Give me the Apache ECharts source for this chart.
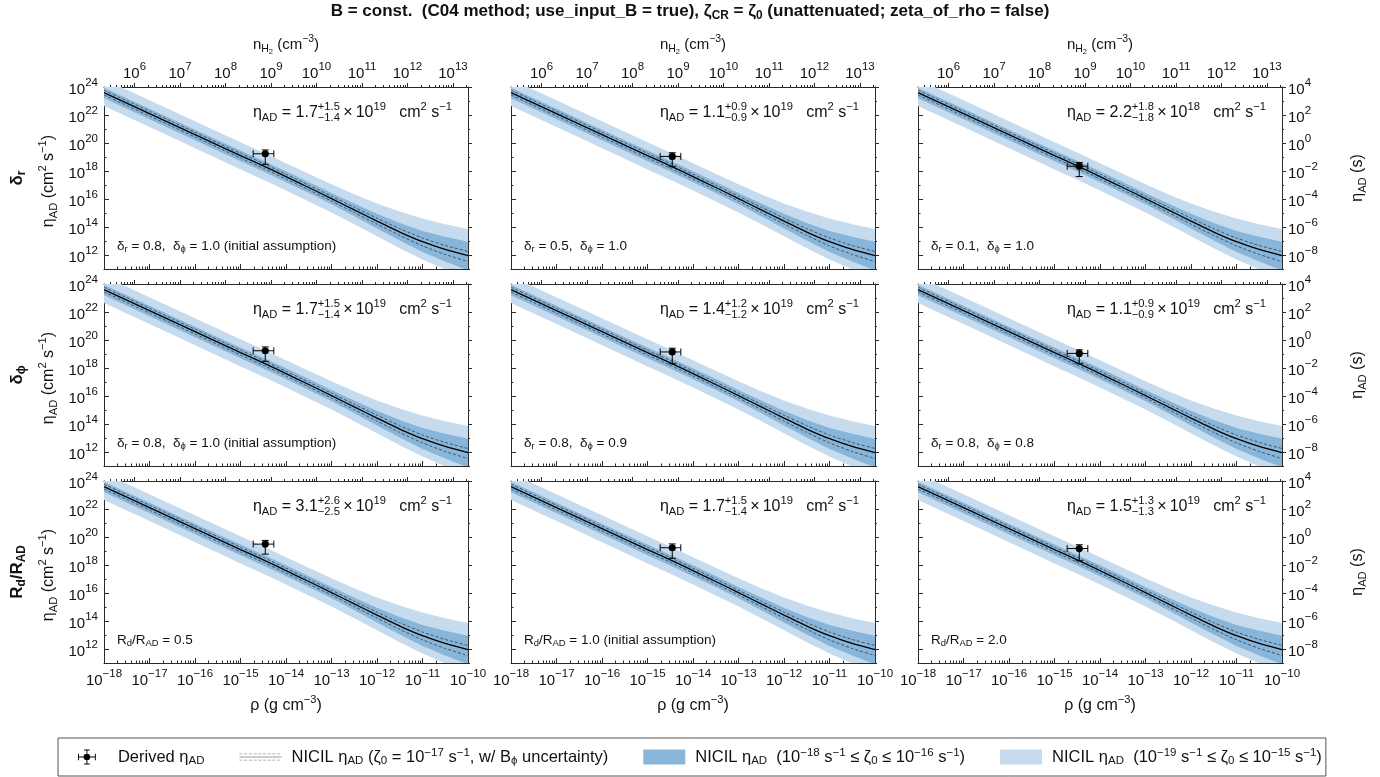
<!DOCTYPE html>
<html><head><meta charset="utf-8">
<script src="https://cdn.jsdelivr.net/npm/echarts@6/dist/echarts.min.js"></script>
<style>html,body{margin:0;padding:0;background:#fff}#c{width:1380px;height:777px}</style>
</head><body><div id="c"></div>
<script>
// ================= DATA =================
// density grid (log10 rho, g cm^-3)
const logRho        = [-18, -17.5, -17, -16.5, -16, -15.5, -15, -14.5, -14, -13.5, -13, -12.5, -12, -11.5, -11, -10.5, -10];
// NICIL eta_AD (log10 cm^2 s^-1), zeta0 = 1e-17 s^-1
const logEtaSolid   = [23.60, 22.85, 22.10, 21.35, 20.60, 19.85, 19.10, 18.37, 17.60, 16.82, 16.03, 15.22, 14.42, 13.64, 12.95, 12.40, 11.95];
// B_phi uncertainty (dashed)
const logEtaDashHi  = [23.77, 23.02, 22.27, 21.52, 20.77, 20.02, 19.27, 18.54, 17.77, 16.99, 16.20, 15.41, 14.63, 13.88, 13.21, 12.68, 12.25];
const logEtaDashLo  = [23.43, 22.68, 21.93, 21.18, 20.43, 19.68, 18.93, 18.20, 17.43, 16.65, 15.86, 15.03, 14.21, 13.40, 12.65, 12.04, 11.53];
// 1e-18 <= zeta0 <= 1e-16 band
const logEtaDarkHi  = [23.95, 23.20, 22.45, 21.70, 20.95, 20.20, 19.46, 18.74, 17.98, 17.21, 16.43, 15.67, 14.94, 14.28, 13.72, 13.30, 12.95];
const logEtaDarkLo  = [23.20, 22.45, 21.70, 20.95, 20.20, 19.45, 18.70, 17.97, 17.20, 16.42, 15.63, 14.77, 13.90, 13.03, 12.22, 11.53, 10.90];
// 1e-19 <= zeta0 <= 1e-15 band
const logEtaLightHi = [24.55, 23.80, 23.05, 22.30, 21.55, 20.80, 20.05, 19.32, 18.55, 17.80, 17.06, 16.34, 15.68, 15.10, 14.60, 14.20, 13.85];
const logEtaLightLo = [22.65, 21.90, 21.15, 20.40, 19.63, 18.87, 18.10, 17.37, 16.60, 15.82, 15.03, 14.20, 13.34, 12.48, 11.67, 10.97, 10.30];

// derived eta_AD point per panel (row-major, 3x3)
const pointRho   = 3.5e-15, pointRhoLo = 1.9e-15, pointRhoHi = 5.4e-15;
const etaMant    = [1.7, 1.1, 2.2, 1.7, 1.4, 1.1, 3.1, 1.7, 1.5];
const etaErrPlus = [1.5, 0.9, 1.8, 1.5, 1.2, 0.9, 2.6, 1.5, 1.3];
const etaErrMinus= [1.4, 0.9, 1.8, 1.4, 1.2, 0.9, 2.5, 1.4, 1.3];
const etaPow     = [19, 19, 18, 19, 19, 19, 19, 19, 19];
const panelNotes = [
  'δ_{r} = 0.8,  δ_{ϕ} = 1.0 (initial assumption)', 'δ_{r} = 0.5,  δ_{ϕ} = 1.0', 'δ_{r} = 0.1,  δ_{ϕ} = 1.0',
  'δ_{r} = 0.8,  δ_{ϕ} = 1.0 (initial assumption)', 'δ_{r} = 0.8,  δ_{ϕ} = 0.9', 'δ_{r} = 0.8,  δ_{ϕ} = 0.8',
  'R_{d}/R_{AD} = 0.5', 'R_{d}/R_{AD} = 1.0 (initial assumption)', 'R_{d}/R_{AD} = 2.0'];
const rowLabels = ['δ_{r}', 'δ_{ϕ}', 'R_{d}/R_{AD}'];
// tick values (exponents)
const rhoTickExp  = [-18, -17, -16, -15, -14, -13, -12, -11, -10];
const nTickExp    = [6, 7, 8, 9, 10, 11, 12, 13];
const etaTickExp  = [12, 14, 16, 18, 20, 22, 24];
const etaSTickExp = [-8, -6, -4, -2, 0, 2, 4];
const RHO_MIN = 1e-18, RHO_MAX = 1e-10, ETA_MIN = 1e11, ETA_MAX = 1e24;
const NH2_PER_RHO = 1 / (2.8 * 1.6726e-24);   // n_H2 = rho / (mu m_H)
const ETA_S_PER_CGS = 1e-20;                    // right-hand axis units

// ================= STYLE / LAYOUT =================
const FONT = '"Liberation Sans", Arial, Helvetica, sans-serif';
const AX = '#2a2a2a', LIGHT = '#c6dcee', DARK = '#88b5da';
const colLeft = [104, 511, 918], rowTop = [87, 284, 481], W = 364, H = 182;
const MINUS = '\u2212', TH = '\u2009';
const EPS = 1e-9;   // keep edge ticks inside the log extent (float rounding)

const ctx2d = document.createElement('canvas').getContext('2d');
function tw(t, fs, bold) { ctx2d.font = (bold ? 'bold ' : '') + fs + 'px ' + FONT; return ctx2d.measureText(t).width; }
function parseMarkup(str) {
  const out = []; const re = /([_^~|])\{([^}]*)\}/g; let last = 0, m;
  while ((m = re.exec(str))) {
    if (m.index > last) out.push({ t: str.slice(last, m.index), k: 'n' });
    const k = { '_': 'sub', '^': 'sup', '~': 'ss', '|': 'stack' }[m[1]];
    out.push(k === 'stack' ? { k, a: m[2].split(';') } : { t: m[2], k });
    last = re.lastIndex;
  }
  if (last < str.length) out.push({ t: str.slice(last), k: 'n' });
  return out;
}
function tEl(t, x, y, s, bold) {
  return { type: 'text', x, y, style: { text: t, fontSize: s, fontWeight: bold ? 'bold' : 'normal', fontFamily: FONT, fill: '#111', textAlign: 'left', verticalAlign: 'middle', textVerticalAlign: 'middle' } };
}
function mkText(str, o) {
  const fs = o.fs, bold = !!o.bold, items = parseMarkup(str), kids = []; let x = 0;
  const sz = { n: fs, sub: fs * 0.7, sup: fs * 0.7, ss: fs * 0.5 };
  const dy = { n: 0, sub: fs * 0.28, sup: -fs * 0.36, ss: fs * 0.45 };
  for (const it of items) {
    if (it.k === 'stack') {
      const s = fs * 0.7; const w = Math.max(tw(it.a[0], s, bold), tw(it.a[1], s, bold));
      kids.push(tEl(it.a[0], x, -fs * 0.36, s, bold)); kids.push(tEl(it.a[1], x, fs * 0.3, s, bold)); x += w;
    } else { kids.push(tEl(it.t, x, dy[it.k], sz[it.k], bold)); x += tw(it.t, sz[it.k], bold); }
  }
  const sh = o.align === 'right' ? -x : o.align === 'center' ? -x / 2 : 0;
  kids.forEach(k => k.x += sh);
  return { type: 'group', x: o.x, y: o.y, rotation: o.rot || 0, silent: true, children: kids };
}

const pw = e => Number.isInteger(e) ? Number('1e' + e) : Math.pow(10, e);
const powFmt = v => '{b|10}{s|' + String(Math.round(Math.log10(v))).replace('-', MINUS) + '}';
const tickRich = { b: { fontSize: 15, lineHeight: 20, verticalAlign: 'bottom', fontFamily: FONT, color: '#111' },
                   s: { fontSize: 11.5, lineHeight: 11, verticalAlign: 'top', fontFamily: FONT, color: '#111' } };
function minorOf(lo, hi) { const out = []; for (let k = Math.floor(Math.log10(lo)); k <= Math.ceil(Math.log10(hi)); k++) for (let j = 2; j <= 9; j++) { const v = j * pw(k); if (v > lo && v < hi) out.push(v); } return out; }

const rhoMajor = rhoTickExp.map(pw), rhoMinor = minorOf(RHO_MIN, RHO_MAX);
const nMin = RHO_MIN * NH2_PER_RHO, nMax = RHO_MAX * NH2_PER_RHO;
const nMajor = nTickExp.map(pw), nMinor = minorOf(nMin, nMax);
const etaMajor = etaTickExp.map(pw), etaMinor = etaTickExp.slice(0, -1).map(e => pw(e + 1)).concat([ETA_MIN]);
const etaSMin = ETA_MIN * ETA_S_PER_CGS, etaSMax = ETA_MAX * ETA_S_PER_CGS;
const etaSMajor = etaSTickExp.map(pw), etaSMinor = etaSTickExp.slice(0, -1).map(e => pw(e + 1)).concat([etaSMin]);

const pts = ys => logRho.map((x, i) => [pw(x), pw(ys[i])]);
const bandData = (lo, hi) => logRho.map((x, i) => [pw(x), pw(lo[i]), pw(hi[i])]);

function axis(o) {
  const base = { type: 'log', logBase: 10, splitLine: { show: false }, axisLine: { show: false, onZero: false }, axisTick: { show: false }, axisLabel: { show: false } };
  const a = Object.assign(base, o);
  a.min = a.min * (1 - EPS); a.max = a.max * (1 + EPS);
  return a;
}
function bandSeries(name, lo, hi, color, ax, z) {
  return { type: 'custom', name, xAxisIndex: ax, yAxisIndex: ax, z, silent: true, clip: true, animation: false,
    itemStyle: { color }, data: bandData(lo, hi), encode: { x: 0, y: [1, 2] },
    renderItem: (params, api) => {
      if (params.dataIndexInside !== 0) return;
      const n = params.dataInsideLength, up = [], dn = [];
      for (let k = 0; k < n; k++) {
        up.push(api.coord([api.value(0, k), api.value(2, k)]));
        dn.push(api.coord([api.value(0, k), api.value(1, k)]));
      }
      return { type: 'polygon', shape: { points: up.concat(dn.reverse()) }, style: { fill: color, stroke: null } };
    } };
}
const grids = [], xAxes = [], yAxes = [], series = [], graphics = [];
for (let r = 0; r < 3; r++) for (let c = 0; c < 3; c++) {
  const i = r * 3 + c, ax = 4 * i;
  grids.push({ left: colLeft[c], top: rowTop[r], width: W, height: H });
  const lineOn = { show: true, onZero: false, lineStyle: { color: AX, width: 1 } };
  xAxes.push(axis({ gridIndex: i, position: 'bottom', min: RHO_MIN, max: RHO_MAX, axisLine: lineOn,
    axisTick: { show: true, inside: true, length: 5, customValues: rhoMajor, lineStyle: { color: AX } },
    axisLabel: { show: r === 2, customValues: rhoMajor, formatter: powFmt, rich: tickRich, margin: 5 } }));
  xAxes.push(axis({ gridIndex: i, position: 'bottom', min: RHO_MIN, max: RHO_MAX,
    axisTick: { show: true, inside: true, length: 2.5, customValues: rhoMinor, lineStyle: { color: AX } } }));
  xAxes.push(axis({ gridIndex: i, position: 'top', min: nMin, max: nMax, axisLine: lineOn,
    axisTick: { show: true, inside: false, length: 4, customValues: nMajor, lineStyle: { color: AX } },
    axisLabel: { show: r === 0, customValues: nMajor, formatter: powFmt, rich: tickRich, margin: 6 } }));
  xAxes.push(axis({ gridIndex: i, position: 'top', min: nMin, max: nMax,
    axisTick: { show: true, inside: false, length: 2, customValues: nMinor, lineStyle: { color: AX } } }));
  yAxes.push(axis({ gridIndex: i, position: 'left', min: ETA_MIN, max: ETA_MAX, axisLine: lineOn,
    axisTick: { show: true, inside: true, length: 5, customValues: etaMajor, lineStyle: { color: AX } },
    axisLabel: { show: c === 0, customValues: etaMajor, formatter: powFmt, rich: tickRich, margin: 6 } }));
  yAxes.push(axis({ gridIndex: i, position: 'left', min: ETA_MIN, max: ETA_MAX,
    axisTick: { show: true, inside: true, length: 2.5, customValues: etaMinor, lineStyle: { color: AX } } }));
  yAxes.push(axis({ gridIndex: i, position: 'right', min: etaSMin, max: etaSMax, axisLine: lineOn,
    axisTick: { show: true, inside: false, length: 4, customValues: etaSMajor, lineStyle: { color: AX } },
    axisLabel: { show: c === 2, customValues: etaSMajor, formatter: powFmt, rich: tickRich, margin: 6 } }));
  yAxes.push(axis({ gridIndex: i, position: 'right', min: etaSMin, max: etaSMax,
    axisTick: { show: true, inside: false, length: 2, customValues: etaSMinor, lineStyle: { color: AX } } }));

  const common = { xAxisIndex: ax, yAxisIndex: ax, symbol: 'none', smooth: 0.2, silent: true, animation: false };
  series.push(bandSeries('light', logEtaLightLo, logEtaLightHi, LIGHT, ax, 1));
  series.push(bandSeries('dark', logEtaDarkLo, logEtaDarkHi, DARK, ax, 2));
  series.push(Object.assign({ type: 'line', name: 'dashHi', data: pts(logEtaDashHi), lineStyle: { color: '#3a3a3a', width: 0.8, type: [3, 2] }, z: 3 }, common));
  series.push(Object.assign({ type: 'line', name: 'dashLo', data: pts(logEtaDashLo), lineStyle: { color: '#3a3a3a', width: 0.8, type: [3, 2] }, z: 3 }, common));
  series.push(Object.assign({ type: 'line', name: 'NICIL', data: pts(logEtaSolid), lineStyle: { color: '#000', width: 1.3 }, itemStyle: { color: '#888' }, z: 4 }, common));
  const e = etaMant[i] * pw(etaPow[i]);
  series.push({ type: 'custom', name: 'Derived', xAxisIndex: ax, yAxisIndex: ax, z: 10, silent: true, animation: false,
    itemStyle: { color: '#000' },
    data: [[pointRho, e, pointRhoLo, pointRhoHi, (etaMant[i] - etaErrMinus[i]) * pw(etaPow[i]), (etaMant[i] + etaErrPlus[i]) * pw(etaPow[i])]],
    encode: { x: [0, 2, 3], y: [1, 4, 5] },
    renderItem: (params, api) => {
      const p = api.coord([api.value(0), api.value(1)]);
      const xl = api.coord([api.value(2), api.value(1)])[0], xr = api.coord([api.value(3), api.value(1)])[0];
      const yb = api.coord([api.value(0), api.value(4)])[1], yt = api.coord([api.value(0), api.value(5)])[1];
      const st = { stroke: '#000', lineWidth: 1 }, cp = 3.5;
      const L = (x1, y1, x2, y2) => ({ type: 'line', shape: { x1, y1, x2, y2 }, style: st });
      return { type: 'group', children: [
        L(xl, p[1], xr, p[1]), L(xl, p[1] - cp, xl, p[1] + cp), L(xr, p[1] - cp, xr, p[1] + cp),
        L(p[0], yt, p[0], yb), L(p[0] - cp, yt, p[0] + cp, yt), L(p[0] - cp, yb, p[0] + cp, yb),
        { type: 'circle', shape: { cx: p[0], cy: p[1], r: 3.6 }, style: { fill: '#000' } }] };
    } });

  // panel annotations
  const etaStr = 'η_{AD} = ' + etaMant[i].toFixed(1) + '|{+' + etaErrPlus[i].toFixed(1) + ';' + MINUS + etaErrMinus[i].toFixed(1) + '}' + TH + '×' + TH + '10^{' + etaPow[i] + '}   cm^{2} s^{' + MINUS + '1}';
  graphics.push(mkText(etaStr, { x: colLeft[c] + W - 16, y: rowTop[r] + 26, fs: 16, align: 'right' }));
  graphics.push(mkText(panelNotes[i], { x: colLeft[c] + 13, y: rowTop[r] + H - 23, fs: 13.5, align: 'left' }));
}
// axis names, row labels, title
for (let r = 0; r < 3; r++) {
  const cy = rowTop[r] + H / 2;
  graphics.push(mkText(rowLabels[r], { x: 17, y: cy, fs: 17, bold: true, align: 'center', rot: Math.PI / 2 }));
  graphics.push(mkText('η_{AD} (cm^{2} s^{' + MINUS + '1})', { x: 49, y: cy + 3, fs: 16, align: 'center', rot: Math.PI / 2 }));
  graphics.push(mkText('η_{AD} (s)', { x: 1358, y: cy, fs: 16, align: 'center', rot: Math.PI / 2 }));
}
for (let c = 0; c < 3; c++) {
  const cx = colLeft[c] + W / 2;
  graphics.push(mkText('n_{H}~{2} (cm^{' + MINUS + '3})', { x: cx, y: 45, fs: 15, align: 'center' }));
  graphics.push(mkText('ρ (g cm^{' + MINUS + '3})', { x: cx, y: 706, fs: 16, align: 'center' }));
}
graphics.push(mkText('B = const.  (C04 method; use_input_B = true), ζ_{CR} = ζ_{0} (unattenuated; zeta_of_rho = false)', { x: 690, y: 11, fs: 17, bold: true, align: 'center' }));

// legend
const legendText = {
  Derived: 'Derived η{sub|AD}',
  NICIL: 'NICIL η{sub|AD} (ζ{sub|0} = 10{sup|' + MINUS + '17} s{sup|' + MINUS + '1}, w/ B{sub|ϕ} uncertainty)',
  dark: 'NICIL η{sub|AD}  (10{sup|' + MINUS + '18} s{sup|' + MINUS + '1} ≤ ζ{sub|0} ≤ 10{sup|' + MINUS + '16} s{sup|' + MINUS + '1})',
  light: 'NICIL η{sub|AD}  (10{sup|' + MINUS + '19} s{sup|' + MINUS + '1} ≤ ζ{sub|0} ≤ 10{sup|' + MINUS + '15} s{sup|' + MINUS + '1})'
};
const errIcon = 'path://M1,7.5h18v1h-18Z M0.5,4.5h1v7h-1Z M18.5,4.5h1v7h-1Z M9.5,0h1v16h-1Z M7,0h6v1h-6Z M7,15h6v1h-6Z M13.5,8A3.5,3.5,0,1,1,6.5,8A3.5,3.5,0,1,1,13.5,8Z';
let lineIcon = 'path://M0,3h42v1h-42Z';
for (let k = 0; k < 9; k++) { lineIcon += ' M' + (k * 4.7) + ',0h3v0.8h-3Z M' + (k * 4.7) + ',6.2h3v0.8h-3Z'; }

const option = {
  animation: false,
  textStyle: { fontFamily: FONT },
  grid: grids, xAxis: xAxes, yAxis: yAxes, series: series, graphic: graphics,
  legend: {
    left: 58, top: 738, orient: 'horizontal', selectedMode: false,
    padding: [9, 4, 9, 20], itemGap: 35, itemWidth: 42, itemHeight: 15,
    borderColor: '#555', borderWidth: 1, borderRadius: 0, backgroundColor: '#fff',
    data: [
      { name: 'Derived', icon: errIcon, itemStyle: { color: '#000' } },
      { name: 'NICIL', icon: lineIcon, itemStyle: { color: '#999' } },
      { name: 'dark', icon: 'rect', itemStyle: { color: DARK } },
      { name: 'light', icon: 'rect', itemStyle: { color: LIGHT } }],
    formatter: n => legendText[n],
    textStyle: { fontSize: 16.5, color: '#111', fontFamily: FONT, lineHeight: 20, padding: [0, 0, 0, 5],
      rich: { sub: { fontSize: 11.5, lineHeight: 11, verticalAlign: 'bottom', fontFamily: FONT, color: '#111' },
              sup: { fontSize: 11.5, lineHeight: 10, verticalAlign: 'top', fontFamily: FONT, color: '#111' } } }
  }
};
const chart = echarts.init(document.getElementById('c'), null, { renderer: 'canvas' });
chart.setOption(option);
</script></body></html>
